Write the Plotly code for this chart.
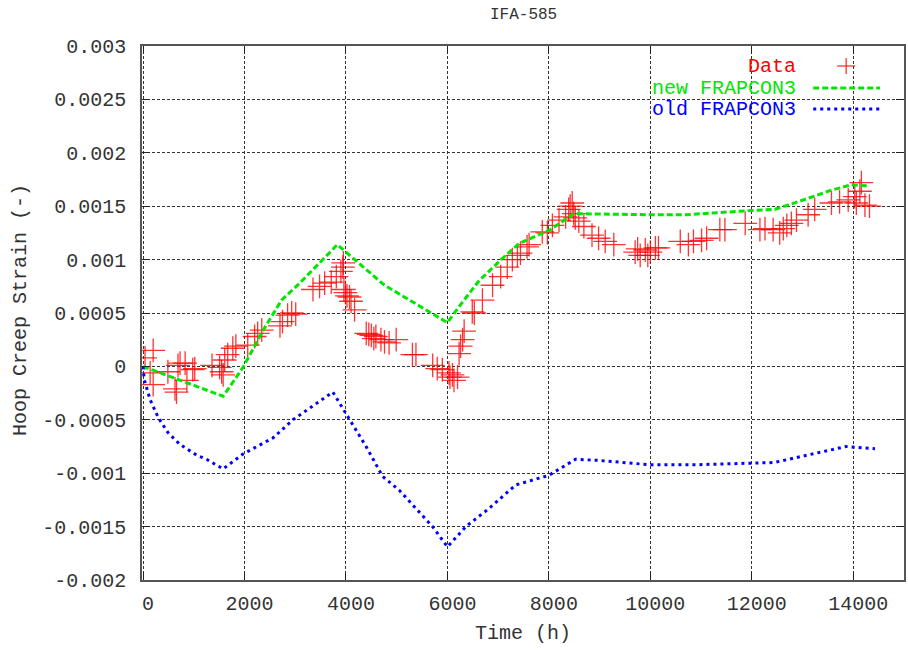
import plotly.graph_objects as go

# Measured hoop creep strain (time in hours, strain dimensionless)
data_time = [
    40, 200, 140, 200, 490, 630, 660, 690, 730, 830, 865, 980, 1020,
    1360, 1510, 1550, 1580, 1610, 1670, 1770, 1830,
    2064, 2200, 2260, 2340, 2700, 2750, 2850, 2930, 3010,
    3350, 3480, 3580, 3710, 3810, 3900, 3940, 3950, 3960, 3990, 4020, 4070, 4100, 4170,
    4400, 4450, 4500, 4550, 4590, 4690, 4760, 4850, 4990,
    5310, 5380, 5710, 5800, 5900, 6030, 6050, 6100, 6130, 6200,
    6230, 6260, 6300, 6330, 6490,
    6530, 6690, 6890, 7050, 7180, 7280, 7380, 7440, 7570, 7610,
    7870, 7970, 8070, 8200, 8330, 8390, 8420, 8460, 8490, 8520, 8590, 8690,
    8850, 8980, 9110, 9280, 9700, 9750, 9800, 9900, 9950, 10000, 10100,
    10160, 10590, 10750, 10850, 11010, 11110, 11370, 11470, 11870,
    12160, 12260, 12420, 12550, 12620, 12690, 12780, 12880,
    13110, 13240, 13570, 13730, 13900, 14030, 14060, 14130, 14160, 14230, 14320,
]
data_strain = [
    0.00008, 0.00015, -0.00006, -0.00017, -0.00005, -0.00021, -0.00024, 0.00001, 0.00003, 0.00003, -0.00013, -0.00003, -0.00002,
    0.00001, -0.00001, -0.00005, -0.00008, 0.00006, 0.00011, 0.00017, 0.00019,
    0.00020, 0.00028, 0.00031, 0.00034, 0.00038, 0.00042, 0.00048, 0.00050, 0.00049,
    0.00072, 0.00075, 0.00078, 0.00079, 0.00084, 0.00089, 0.00093, 0.00097, 0.00072, 0.00069, 0.00066, 0.00065, 0.00061, 0.00053,
    0.00031, 0.00030, 0.00029, 0.00026, 0.00028, 0.00025, 0.00023, 0.00022, 0.00025,
    0.00011, 0.00011, 0.00001, -0.00002, -0.00003, -0.00006, -0.00010, -0.00008, -0.00013, -0.00010,
    0.00012, 0.00019, 0.00025, 0.00033, 0.00051,
    0.00050, 0.00062, 0.00076, 0.00084, 0.00093, 0.00100, 0.00104, 0.00106, 0.00112, 0.00114,
    0.00126, 0.00125, 0.00132, 0.00137, 0.00140, 0.00147, 0.00150, 0.00153, 0.00143, 0.00139, 0.00136, 0.00131,
    0.00123, 0.00120, 0.00117, 0.00114, 0.00107, 0.00110, 0.00104, 0.00109, 0.00104, 0.00107, 0.00111,
    0.00111, 0.00117, 0.00114, 0.00117, 0.00118, 0.00120, 0.00128, 0.00128, 0.00134,
    0.00128, 0.00129, 0.00128, 0.00125, 0.00129, 0.00132, 0.00134, 0.00137,
    0.00142, 0.00147, 0.00153, 0.00154, 0.00156, 0.00159, 0.00153, 0.00164, 0.00172, 0.00151, 0.00150,
]

# New FRAPCON3 prediction
new_time = [0, 1580, 1970, 2370, 2730, 3090, 3830, 4760, 6000, 6230, 6620, 7080, 7410,
            7800, 8030, 8400, 8490, 10000, 10700, 12000, 12450, 12900, 13570, 13960, 14320]
new_strain = [0.0, -0.00028, -0.00001, 0.00034, 0.00062, 0.00078, 0.00114, 0.00076, 0.00041,
              0.00056, 0.00080, 0.00101, 0.00115, 0.00123, 0.00128, 0.00140, 0.00143, 0.00142,
              0.00142, 0.00146, 0.00147, 0.00154, 0.00165, 0.00170, 0.00169]

# Old FRAPCON3 prediction
old_time = [0, 26, 138, 301, 491, 727, 1055, 1252, 1578, 1972, 2561, 2954, 3741, 3925, 4069,
            4397, 4723, 5052, 5707, 6001, 6363, 6821, 7345, 7738, 8000, 8525, 8983, 9966,
            10948, 12440, 13857, 14428]
old_strain = [0.0, -0.000126, -0.00031, -0.00048, -0.00062, -0.00073, -0.00083, -0.00087,
              -0.00096, -0.00082, -0.00067, -0.00050, -0.00024, -0.00038, -0.00050, -0.00075,
              -0.00103, -0.00116, -0.00150, -0.00169, -0.00150, -0.00133, -0.00111, -0.00106,
              -0.00102, -0.00087, -0.00088, -0.00092, -0.00092, -0.00090, -0.00075, -0.00077]

x_ticks = [0, 2000, 4000, 6000, 8000, 10000, 12000, 14000]
x_tick_text = ["0", "2000", "4000", "6000", "8000", "10000", "12000", "14000"]
y_ticks = [0.003, 0.0025, 0.002, 0.0015, 0.001, 0.0005, 0, -0.0005, -0.001, -0.0015, -0.002]
y_tick_text = ["0.003", "0.0025", "0.002", "0.0015", "0.001", "0.0005", "0",
               "-0.0005", "-0.001", "-0.0015", "-0.002"]

FONT = "Liberation Mono, Courier New, monospace"
TEXT = "#333"
RED = "#ff0000"
GREEN = "#00e600"
BLUE = "#0000ff"
CROSS = "rgba(255,0,0,0.8)"

fig = go.Figure()
fig.add_trace(go.Scatter(
    x=data_time, y=data_strain, mode="markers", name="Data",
    marker=dict(symbol="cross-thin", size=17, line=dict(width=1.3, color=CROSS)),
))
fig.add_trace(go.Scatter(
    x=new_time, y=new_strain, mode="lines", name="new FRAPCON3",
    line=dict(color=GREEN, width=3, dash="6px,3px"),
))
fig.add_trace(go.Scatter(
    x=old_time, y=old_strain, mode="lines", name="old FRAPCON3",
    line=dict(color=BLUE, width=3, dash="3px,4px"),
))

axis_common = dict(
    showline=True, linecolor="#555", linewidth=1.5, mirror="ticks",
    ticks="inside", ticklen=8, tickcolor="#222", tickwidth=1,
    showgrid=True, gridcolor="#333", gridwidth=1, griddash="3px,2px",
    zeroline=False, tickfont=dict(family=FONT, size=20, color=TEXT),
)

fig.update_xaxes(range=[-20, 15000], tickvals=x_ticks, ticktext=x_tick_text,
                 ticklabelstandoff=4, ticklabelshift=5, **axis_common)
fig.update_yaxes(range=[-0.002, 0.003], tickvals=y_ticks, ticktext=y_tick_text,
                 ticklabelstandoff=10, **axis_common)

annotations = [
    dict(text="IFA-585", x=0.5, y=1, xref="paper", yref="paper", yshift=31,
         xanchor="center", yanchor="middle", showarrow=False,
         font=dict(family=FONT, size=16, color=TEXT)),
    dict(text="Time (h)", x=0.5, y=0, xref="paper", yref="paper", yshift=-53,
         xanchor="center", yanchor="middle", showarrow=False,
         font=dict(family=FONT, size=20, color=TEXT)),
    dict(text="Hoop Creep Strain (-)", x=0, y=0.5, xref="paper", yref="paper", xshift=-122,
         yshift=3, xanchor="center", yanchor="middle", textangle=-90, showarrow=False,
         font=dict(family=FONT, size=20, color=TEXT)),
]

# Key in the top right corner: right-aligned labels followed by line samples
key_right = (800 - 142) / 764
key_rows = [(-20, "Data", RED), (-42, "new FRAPCON3", GREEN), (-63, "old FRAPCON3", BLUE)]
for shift, label, color in key_rows:
    annotations.append(dict(text=label, x=key_right, y=1, xref="paper", yref="paper",
                            yshift=shift, xanchor="right", yanchor="middle", showarrow=False,
                            font=dict(family=FONT, size=20, color=color)))

ph = 534.3
pw = 764
s0, s1 = (815 - 142) / pw, (882 - 142) / pw
shapes = [
    dict(type="line", xref="paper", yref="paper", x0=s0, x1=s1,
         y0=1 - 42 / ph, y1=1 - 42 / ph, line=dict(color=GREEN, width=3, dash="6px,3px")),
    dict(type="line", xref="paper", yref="paper", x0=s0, x1=s1,
         y0=1 - 63 / ph, y1=1 - 63 / ph, line=dict(color=BLUE, width=3, dash="3px,4px")),
]
cx, cy = (848 - 142) / pw, 1 - 20 / ph
shapes += [
    dict(type="line", xref="paper", yref="paper", x0=cx - 9 / pw, x1=cx + 9 / pw,
         y0=cy, y1=cy, line=dict(color=CROSS, width=1.3)),
    dict(type="line", xref="paper", yref="paper", x0=cx, x1=cx,
         y0=cy - 8 / ph, y1=cy + 8 / ph, line=dict(color=CROSS, width=1.3)),
]

fig.update_layout(
    width=908, height=651,
    margin=dict(l=142, r=2, t=46, b=71),
    paper_bgcolor="white", plot_bgcolor="white",
    showlegend=False,
    annotations=annotations, shapes=shapes,
)

fig.write_html("out.html")
